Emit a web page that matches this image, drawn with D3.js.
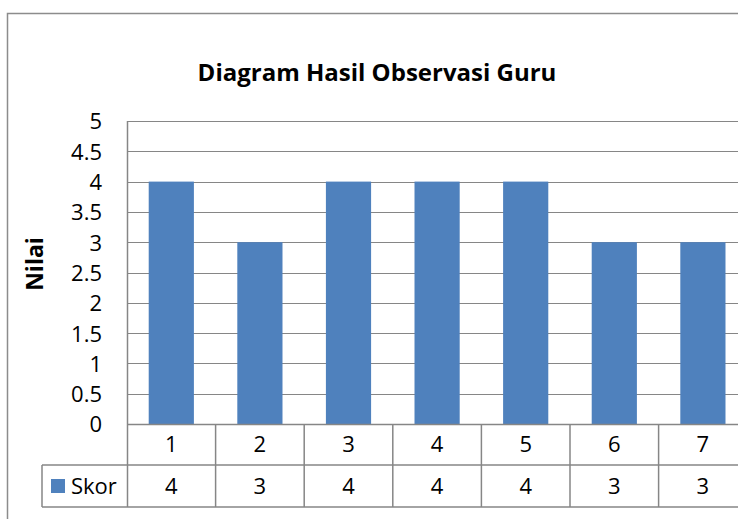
<!DOCTYPE html>
<html><head><meta charset="utf-8">
<script src="https://cdn.jsdelivr.net/npm/d3@7/dist/d3.min.js"></script>
<style>body{margin:0;background:#fff;}svg{display:block;}</style>
</head><body>
<svg id="c" width="738" height="519"></svg>
<script>
const categories = ["1","2","3","4","5","6","7"];
const skor = [4,3,4,4,4,3,3];
const yTicks = [0,0.5,1,1.5,2,2.5,3,3.5,4,4.5,5];
const yTickLabels = ["0","0.5","1","1.5","2","2.5","3","3.5","4","4.5","5"];
const seriesName = "Skor";
const title = "Diagram Hasil Observasi Guru";
const yTitle = "Nilai";

const svg = d3.select("#c");
const font = "'Open Sans', sans-serif";
const gray = "#868686";
const L = 127, T = 121, B = 424, band = 88.6;
const R = L + band * categories.length;
const row1 = 465, row2 = 507, legL = 42;
const fs = 22;

// outer chart border
svg.append("rect").attr("x",7.5).attr("y",13.5).attr("width",760).attr("height",540)
  .attr("fill","none").attr("stroke","#8c8c8c").attr("stroke-width",1.5);

const x = d3.scaleBand().domain(categories).range([L,R]).paddingInner(0.49).paddingOuter(0.245);
const xb = d3.scaleBand().domain(categories).range([L,R]);
const y = d3.scaleLinear().domain([0,5]).range([B,T]);

// gridlines
svg.append("g").selectAll("line").data(yTicks).join("line")
  .attr("x1",L).attr("x2",R).attr("y1",d=>Math.round(y(d))+0.5).attr("y2",d=>Math.round(y(d))+0.5)
  .attr("stroke",gray).attr("stroke-width",1);

// bars
svg.append("g").selectAll("rect").data(skor).join("rect")
  .attr("x",(d,i)=>x(categories[i])).attr("width",x.bandwidth())
  .attr("y",d=>y(d)).attr("height",d=>y(0)-y(d)).attr("fill","#4F81BD");

// y axis via d3 axis
const yAxis = d3.axisLeft(y).tickValues(yTicks).tickFormat((d,i)=>yTickLabels[i]).tickSize(0).tickPadding(25);
const ga = svg.append("g").attr("transform",`translate(${L},0)`).call(yAxis);
ga.select(".domain").remove();
ga.selectAll("text").attr("font-family",font).attr("font-size",fs).attr("fill","#000").attr("dy","0.36em");

// plot left line
svg.append("line").attr("x1",L+0.5).attr("x2",L+0.5).attr("y1",T).attr("y2",row2).attr("stroke",gray).attr("stroke-width",1.5);

// data table
const tb = svg.append("g");
tb.selectAll("line.v").data(categories).join("line")
  .attr("x1",d=>xb(d)+xb.bandwidth()).attr("x2",d=>xb(d)+xb.bandwidth())
  .attr("y1",B).attr("y2",row2).attr("stroke",gray).attr("stroke-width",1.5);
tb.append("line").attr("x1",legL).attr("x2",R).attr("y1",row1).attr("y2",row1).attr("stroke",gray).attr("stroke-width",1.5);
tb.append("line").attr("x1",legL).attr("x2",R).attr("y1",row2).attr("y2",row2).attr("stroke",gray).attr("stroke-width",1.5);
tb.append("line").attr("x1",legL).attr("x2",legL).attr("y1",row1).attr("y2",row2).attr("stroke",gray).attr("stroke-width",1.5);
tb.append("line").attr("x1",L).attr("x2",R).attr("y1",B+0.5).attr("y2",B+0.5).attr("stroke",gray).attr("stroke-width",1.5);

tb.selectAll("text.c").data(categories).join("text")
  .attr("x",d=>xb(d)+xb.bandwidth()/2).attr("y",(B+row1)/2).attr("dy","0.36em")
  .attr("text-anchor","middle").attr("font-family",font).attr("font-size",fs).text(d=>d);
tb.selectAll("text.v").data(skor).join("text")
  .attr("x",(d,i)=>xb(categories[i])+xb.bandwidth()/2).attr("y",(row1+row2)/2).attr("dy","0.36em")
  .attr("text-anchor","middle").attr("font-family",font).attr("font-size",fs).text(d=>d);

// legend
tb.append("rect").attr("x",51).attr("y",479).attr("width",14).attr("height",14).attr("fill","#4F81BD");
tb.append("text").attr("x",71).attr("y",(row1+row2)/2).attr("dy","0.36em")
  .attr("font-family",font).attr("font-size",fs).text(seriesName);

// title
svg.append("text").attr("x",377).attr("y",81).attr("text-anchor","middle")
  .attr("font-family",font).attr("font-weight","bold").attr("font-size",24).text(title);

// y title
svg.append("text").attr("transform","translate(43,264) rotate(-90)").attr("text-anchor","middle")
  .attr("font-family",font).attr("font-weight","bold").attr("font-size",23).text(yTitle);
</script>
</body></html>
